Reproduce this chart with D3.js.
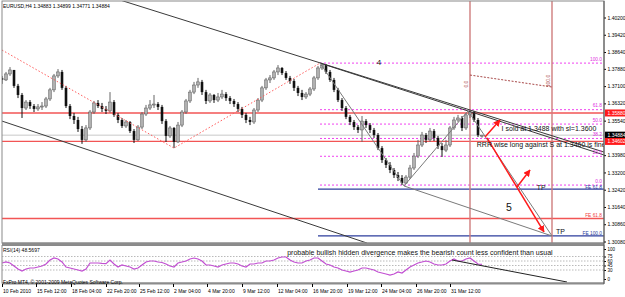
<!DOCTYPE html>
<html><head><meta charset="utf-8">
<script src="https://cdn.jsdelivr.net/npm/d3@7/dist/d3.min.js"></script>
<style>
html,body{margin:0;padding:0;background:#fff;}
svg{display:block;}
</style></head>
<body><svg id="chart" width="625" height="297"></svg>
<script>
// ---------------- DATA ----------------
const symbolTitle = "EURUSD,H4  1.34883 1.34899 1.34771 1.34884";
const firstOpen = 1.3747;
const closes = [
1.3738,1.3765,1.3783,1.3711,1.3670,1.3611,1.3638,1.3620,1.3607,1.3616,
1.3620,1.3652,1.3693,1.3756,1.3774,1.3702,1.3620,1.3575,1.3557,1.3516,
1.3467,1.3521,1.3593,1.3634,1.3620,1.3607,1.3598,1.3638,1.3580,1.3557,
1.3530,1.3548,1.3507,1.3467,1.3525,1.3584,1.3611,1.3625,1.3629,1.3616,
1.3552,1.3485,1.3521,1.3458,1.3534,1.3593,1.3643,1.3683,1.3715,1.3729,
1.3683,1.3643,1.3670,1.3647,1.3661,1.3674,1.3656,1.3643,1.3629,1.3607,
1.3580,1.3557,1.3548,1.3602,1.3647,1.3702,1.3738,1.3747,1.3774,1.3792,
1.3769,1.3747,1.3733,1.3702,1.3679,1.3661,1.3674,1.3697,1.3747,1.3792,
1.3805,1.3774,1.3738,1.3693,1.3647,1.3611,1.3571,1.3548,1.3525,1.3512,
1.3552,1.3534,1.3512,1.3489,1.3430,1.3376,1.3354,1.3331,1.3308,1.3295,
1.3272,1.3299,1.3340,1.3394,1.3444,1.3489,1.3467,1.3507,1.3476,1.3439,
1.3421,1.3444,1.3521,1.3557,1.3566,1.3521,1.3580,1.3593,1.3557,1.34883,
1.34884];
const highs = [
1.3756,1.3774,1.3796,1.3783,1.3720,1.3679,1.3647,1.3647,1.3629,1.3629,
1.3638,1.3661,1.3702,1.3765,1.3787,1.3783,1.3711,1.3629,1.3589,1.3571,
1.3530,1.3534,1.3602,1.3643,1.3647,1.3634,1.3620,1.3683,1.3647,1.3589,
1.3566,1.3557,1.3552,1.3516,1.3534,1.3593,1.3625,1.3647,1.3670,1.3638,
1.3625,1.3561,1.3530,1.3525,1.3548,1.3602,1.3652,1.3693,1.3729,1.3747,
1.3738,1.3693,1.3679,1.3674,1.3679,1.3693,1.3683,1.3665,1.3652,1.3638,
1.3616,1.3589,1.3571,1.3611,1.3656,1.3711,1.3747,1.3760,1.3783,1.3805,
1.3796,1.3778,1.3756,1.3742,1.3711,1.3693,1.3683,1.3706,1.3756,1.3801,
1.3814,1.3810,1.3783,1.3747,1.3702,1.3656,1.3620,1.3580,1.3557,1.3534,
1.3575,1.3561,1.3543,1.3521,1.3498,1.3439,1.3385,1.3367,1.3340,1.3322,
1.3308,1.3308,1.3354,1.3408,1.3467,1.3503,1.3498,1.3521,1.3516,1.3485,
1.3453,1.3467,1.3530,1.3571,1.3580,1.3575,1.3589,1.3602,1.3598,1.3566,
1.34899];
const lows = [
1.3720,1.3733,1.3756,1.3702,1.3656,1.3566,1.3602,1.3607,1.3593,1.3598,
1.3602,1.3611,1.3643,1.3683,1.3747,1.3693,1.3611,1.3561,1.3539,1.3503,
1.3449,1.3458,1.3512,1.3584,1.3611,1.3593,1.3584,1.3589,1.3571,1.3543,
1.3521,1.3521,1.3498,1.3453,1.3462,1.3516,1.3575,1.3602,1.3611,1.3602,
1.3539,1.3458,1.3476,1.3430,1.3453,1.3525,1.3584,1.3634,1.3674,1.3702,
1.3670,1.3629,1.3634,1.3634,1.3638,1.3652,1.3643,1.3629,1.3616,1.3593,
1.3566,1.3543,1.3534,1.3539,1.3593,1.3638,1.3693,1.3724,1.3738,1.3760,
1.3760,1.3738,1.3720,1.3688,1.3665,1.3647,1.3652,1.3665,1.3688,1.3738,
1.3783,1.3765,1.3729,1.3683,1.3638,1.3598,1.3561,1.3534,1.3512,1.3498,
1.3458,1.3521,1.3498,1.3476,1.3421,1.3363,1.3340,1.3317,1.3295,1.3281,
1.3263,1.3268,1.3290,1.3331,1.3385,1.3435,1.3453,1.3458,1.3462,1.3426,
1.3390,1.3412,1.3435,1.3512,1.3548,1.3507,1.3512,1.3566,1.3548,1.3480,
1.34771];
const rsiValues = [
53.3,56.7,53.3,43.3,33.3,26.7,33.3,36.7,36.7,40.0,
43.3,50.0,63.3,70.0,66.7,56.7,40.0,36.7,33.3,30.0,
26.7,33.3,53.3,53.3,53.3,52.0,51.0,63.3,50.0,40.0,
46.7,43.3,40.0,33.3,36.7,46.7,56.7,60.0,60.0,56.7,
55.0,50.0,43.3,40.0,53.3,56.7,60.0,66.7,70.0,66.7,
60.0,46.7,46.7,43.3,40.0,46.7,50.0,53.3,53.3,50.0,
43.3,40.0,50.0,50.0,53.3,53.3,60.0,60.0,63.3,70.0,
73.3,73.3,63.3,56.7,53.3,53.3,60.0,63.3,70.0,70.0,
60.0,50.0,46.7,40.0,36.7,30.0,26.7,23.3,26.7,30.0,
36.7,36.7,33.3,30.0,23.3,20.0,16.7,13.3,16.7,23.3,
20.0,30.0,40.0,46.7,53.3,56.7,60.0,56.7,50.0,46.7,
46.7,50.0,60.0,66.7,60.0,60.0,66.7,70.0,60.0,50.0,
48.57];
const rsiTitle = "RSI(14) 48.5697";
const rsiLevels = [75, 60, 45, 30];
const rsiAxisTicks = [100, 75, 60, 45, 30, 0];
const rsiTrend = [[112.5, 63.3], [141.25, -10]];
const timeLabels = ["10 Feb 2010","15 Feb 12:00","18 Feb 04:00","22 Feb 20:00","25 Feb 12:00","2 Mar 04:00","4 Mar 20:00","9 Mar 12:00","12 Mar 04:00","16 Mar 20:00","19 Mar 12:00","24 Mar 04:00","26 Mar 20:00","31 Mar 12:00"];
const timeLabelIndex = [0, 8.5, 17.25, 26, 34.25, 42.75, 51.25, 60, 68.75, 77.5, 86.25, 94.75, 103.5, 112];
const priceTicks = [1.40200,1.39420,1.38640,1.37880,1.37100,1.36320,1.35540,1.33980,1.33200,1.32420,1.31640,1.30860,1.30080];
const redLevels = [1.35886, 1.34602, 1.31120];
const currentPrice = 1.34884;
const priceTagValues = [1.35886, 1.34884, 1.34602];
const priceTagTexts = ["1.35880", "1.34884", "1.34602"];
const fibLow = 1.3263, fibHigh = 1.3814, fibStartIndex = 79.5;
const fibRatios = [0, 23.6, 38.2, 50.0, 61.8, 100.0];
const feLevels = [1.3245, 1.3033];
const feLabels = ["FE 61.8", "FE 100.0"];
const redFeLabel = "FE 61.8";
const timeFibIndex = [117, 137.5];
const timeFibLabels = ["0.0", "100.0"];
const timeFibLabelPrice = [1.3719, 1.3733];
const timeFibLine = [[117, 1.3760], [137.5, 1.3706]];
const channelTop = [[29.5, 1.4099], [150.5, 1.3412]];
const peakLine = [[79.5, 1.3814], [150.5, 1.3399]];
const channelBottom = [[0, 1.3552], [91.25, 1.3001]];
const zigzag = [[0, 1.3873], [43, 1.3430], [79.5, 1.3814]];
const waveLines = [
  [[79.5, 1.3814], [100.5, 1.3259]],
  [[100.5, 1.3259], [116.5, 1.3598]],
  [[116.5, 1.3598], [137.5, 1.3033]],
  [[100.5, 1.3259], [137.5, 1.3033]]
];
const redArrows = [
  [[120.75, 1.3480], [124.5, 1.3557]],
  [[121.25, 1.3476], [135.5, 1.3051]],
  [[128.75, 1.3254], [132, 1.3331]]
];
const annotationTexts = ["4", "5", "TP", "TP", "I sold at 1.3488 with sl=1.3600", "RRR wise long against S at 1.3460 is fine"];
const annotationAnchors = [[93.7, 1.3815], [126, 1.3162], [133.7, 1.3252], [138.5, 1.3053], [124.9, 1.3519], [118.7, 1.3444]];
const rsiNote = "probable bullish hidden divergence makes the bearish count less confident than usual";
const rsiNoteAnchor = [71.3, 90];
const copyright = "FxPro MT4, \u00A9 2001-2009 MetaQuotes Software Corp.";

// ---------------- CHART ----------------
const FONT = "'Liberation Sans', Arial, sans-serif";
const svg = d3.select("#chart");
const L = 2, R = 604, T = 1, B = 243, RT = 245.5, RB = 283;
const x = d3.scaleLinear().domain([0, 150.5]).range([2, 604]);
const y = d3.scaleLinear().domain([1.30080, 1.40200]).range([241.5, 17.5]);
const yr = d3.scaleLinear().domain([0, 100]).range([279, 249]);

svg.append("rect").attr("width", 625).attr("height", 297).attr("fill", "#fff");

const defs = svg.append("defs");
defs.append("clipPath").attr("id", "mainClip").append("rect")
  .attr("x", L).attr("y", T).attr("width", R - L).attr("height", B - T);
defs.append("clipPath").attr("id", "rsiClip").append("rect")
  .attr("x", L).attr("y", RT).attr("width", R - L).attr("height", RB - RT);
defs.append("marker").attr("id", "arrowRed").attr("viewBox", "0 0 10 10")
  .attr("refX", 9).attr("refY", 5).attr("markerWidth", 7).attr("markerHeight", 7)
  .attr("markerUnits", "userSpaceOnUse").attr("orient", "auto")
  .append("path").attr("d", "M0,0 L10,5 L0,10 z").attr("fill", "#ff1a1a");

const main = svg.append("g").attr("clip-path", "url(#mainClip)");
const line = d3.line().x(d => x(d[0])).y(d => y(d[1]));

// horizontal levels (background)
main.append("line").attr("x1", L).attr("x2", R)
  .attr("y1", y(currentPrice)).attr("y2", y(currentPrice))
  .attr("stroke", "#c8c8c8").attr("stroke-width", 1);
main.selectAll("line.red").data(redLevels).join("line").attr("class", "red")
  .attr("x1", L).attr("x2", R).attr("y1", d => y(d)).attr("y2", d => y(d))
  .attr("stroke", "#f25555").attr("stroke-width", 1.3);

// fib retracement
const fibVal = r => fibLow + (fibHigh - fibLow) * r / 100;
main.selectAll("line.fib").data(fibRatios).join("line").attr("class", "fib")
  .attr("x1", x(fibStartIndex)).attr("x2", R)
  .attr("y1", d => y(fibVal(d))).attr("y2", d => y(fibVal(d)))
  .attr("stroke", "#f040f0").attr("stroke-width", 1).attr("stroke-dasharray", "2,2");
// FE blue lines
main.selectAll("line.fe").data(feLevels).join("line").attr("class", "fe")
  .attr("x1", x(fibStartIndex) - 2).attr("x2", R)
  .attr("y1", d => y(d)).attr("y2", d => y(d))
  .attr("stroke", "#2c3c9c").attr("stroke-width", 1.2);

// vertical time-fib lines
main.selectAll("line.tf").data(timeFibIndex).join("line").attr("class", "tf")
  .attr("x1", d => x(d)).attr("x2", d => x(d)).attr("y1", T).attr("y2", B)
  .attr("stroke", "#cf7d7d").attr("stroke-width", 1.4);
main.append("path").attr("d", line(timeFibLine)).attr("fill", "none")
  .attr("stroke", "#a84848").attr("stroke-width", 1).attr("stroke-dasharray", "2,1.5");

// candles
const candles = closes.map((c, i) => ({i, o: i ? closes[i - 1] : firstOpen, c, h: highs[i], l: lows[i]}));
const cg = main.append("g");
cg.selectAll("line.wick").data(candles).join("line").attr("class", "wick")
  .attr("x1", d => x(d.i)).attr("x2", d => x(d.i))
  .attr("y1", d => y(d.h)).attr("y2", d => y(d.l))
  .attr("stroke", d => d.c >= d.o ? "#666" : "#111").attr("stroke-width", 1);
cg.selectAll("rect.body").data(candles).join("rect").attr("class", "body")
  .attr("x", d => x(d.i) - 1.3).attr("width", 2.6)
  .attr("y", d => y(Math.max(d.o, d.c)))
  .attr("height", d => Math.max(1, Math.abs(y(d.o) - y(d.c))))
  .attr("fill", d => d.c >= d.o ? "#b0b0b0" : "#111")
  .attr("stroke", d => d.c >= d.o ? "#555" : "none").attr("stroke-width", 0.5);

// trend lines
main.append("path").attr("d", line(zigzag)).attr("fill", "none")
  .attr("stroke", "#ff5c5c").attr("stroke-width", 1).attr("stroke-dasharray", "1.5,2");
[channelTop, peakLine, channelBottom].forEach(seg => {
  main.append("path").attr("d", line(seg)).attr("fill", "none")
    .attr("stroke", "#3a3a3a").attr("stroke-width", 1);
});
waveLines.forEach(seg => {
  main.append("path").attr("d", line(seg)).attr("fill", "none")
    .attr("stroke", "#7a7a7a").attr("stroke-width", 1);
});
redArrows.forEach(seg => {
  main.append("path").attr("d", line(seg)).attr("fill", "none")
    .attr("stroke", "#ff1a1a").attr("stroke-width", 1.5).attr("marker-end", "url(#arrowRed)");
});

// fib labels
main.selectAll("text.fibl").data(fibRatios).join("text").attr("class", "fibl")
  .attr("x", R - 2).attr("y", d => y(fibVal(d)) - 4).attr("text-anchor", "end")
  .attr("dominant-baseline", "central")
  .attr("font-family", FONT).attr("font-size", 4.8).attr("fill", "#e030e0")
  .text(d => d.toFixed(1));
main.selectAll("text.fel").data(feLevels).join("text").attr("class", "fel")
  .attr("x", R - 2).attr("y", d => y(d) - 2).attr("text-anchor", "end")
  .attr("dominant-baseline", "central")
  .attr("font-family", FONT).attr("font-size", 4.8).attr("fill", "#2c3c9c")
  .text((d, i) => feLabels[i]);
main.append("text").attr("x", R - 2).attr("y", y(redLevels[2]) - 3).attr("text-anchor", "end")
  .attr("dominant-baseline", "central")
  .attr("font-family", FONT).attr("font-size", 4.8).attr("fill", "#f04040").text(redFeLabel);
timeFibIndex.forEach((ti, k) => {
  main.append("text")
    .attr("transform", `translate(${x(ti) - 2},${y(timeFibLabelPrice[k])}) rotate(-90)`)
    .attr("text-anchor", "middle").attr("font-family", FONT).attr("font-size", 5)
    .attr("fill", "#a84848").text(timeFibLabels[k]);
});

// annotations
const annSizes = [8, 10.5, 6.8, 7, 7, 7];
annotationTexts.forEach((t, k) => {
  main.append("text").attr("x", x(annotationAnchors[k][0])).attr("y", y(annotationAnchors[k][1]))
    .attr("dominant-baseline", "central").attr("font-family", FONT)
    .attr("font-size", annSizes[k]).attr("fill", "#111").text(t);
});

// title
svg.append("text").attr("x", 3).attr("y", 6).attr("dominant-baseline", "central")
  .attr("font-family", FONT).attr("font-size", 5).attr("fill", "#000").text(symbolTitle);

// ---------------- RSI PANEL ----------------
const rsiG = svg.append("g").attr("clip-path", "url(#rsiClip)");
rsiG.selectAll("line.lvl").data(rsiLevels).join("line").attr("class", "lvl")
  .attr("x1", L).attr("x2", R).attr("y1", d => yr(d)).attr("y2", d => yr(d))
  .attr("stroke", "#a8a8a8").attr("stroke-width", 0.8).attr("stroke-dasharray", "1.5,1.5");
rsiG.append("path").datum(rsiValues)
  .attr("d", d3.line().x((d, i) => x(i)).y(d => yr(d)))
  .attr("fill", "none").attr("stroke", "#c24fd2").attr("stroke-width", 1.2);
rsiG.append("path").attr("d", d3.line().x(d => x(d[0])).y(d => yr(d[1]))(rsiTrend))
  .attr("fill", "none").attr("stroke", "#222").attr("stroke-width", 1);
svg.append("text").attr("x", 3).attr("y", 250).attr("dominant-baseline", "central")
  .attr("font-family", FONT).attr("font-size", 5).attr("fill", "#000").text(rsiTitle);
svg.append("text").attr("x", x(rsiNoteAnchor[0])).attr("y", yr(rsiNoteAnchor[1]))
  .attr("dominant-baseline", "central")
  .attr("font-family", FONT).attr("font-size", 7).attr("fill", "#111").text(rsiNote);

// ---------------- FRAMES ----------------
svg.append("rect").attr("x", L).attr("y", T).attr("width", R - L).attr("height", B - T)
  .attr("fill", "none").attr("stroke", "#8a8a8a").attr("stroke-width", 1);
svg.append("rect").attr("x", L).attr("y", B - 0.5).attr("width", R - L).attr("height", 3)
  .attr("fill", "#8c8c8c");
svg.append("rect").attr("x", L).attr("y", RT).attr("width", R - L).attr("height", RB - RT)
  .attr("fill", "none").attr("stroke", "#8a8a8a").attr("stroke-width", 1);
svg.append("rect").attr("x", L).attr("y", RB - 0.5).attr("width", R - L).attr("height", 2)
  .attr("fill", "#8c8c8c");
svg.append("text").attr("x", 3).attr("y", 282).attr("dominant-baseline", "central")
  .attr("font-family", FONT).attr("font-size", 5).attr("fill", "#000").text(copyright);

// ---------------- AXES ----------------
const ay = svg.append("g").attr("transform", `translate(${R},0)`)
  .call(d3.axisRight(y).tickValues(priceTicks).tickSize(2).tickFormat(d => d.toFixed(5)));
ay.select(".domain").remove();
ay.attr("font-family", FONT).attr("font-size", 5);
ay.selectAll("text").attr("x", 3.5).attr("fill", "#000");
ay.selectAll("line").attr("stroke", "#000");

// price tags
priceTagValues.forEach((v, k) => {
  const fill = k === 1 ? "#000" : "#ff1a1a";
  svg.append("rect").attr("x", R + 1).attr("y", y(v) - 3.5).attr("width", 21).attr("height", 7).attr("fill", fill);
  svg.append("text").attr("x", R + 3.5).attr("y", y(v)).attr("dominant-baseline", "central")
    .attr("font-family", FONT).attr("font-size", 5).attr("fill", "#fff").text(priceTagTexts[k]);
});

// RSI axis
const ar = svg.append("g").attr("transform", `translate(${R},0)`)
  .call(d3.axisRight(yr).tickValues(rsiAxisTicks).tickSize(2).tickFormat(d3.format("d")));
ar.select(".domain").remove();
ar.attr("font-family", FONT).attr("font-size", 4.5);
ar.selectAll("text").attr("x", 3.5).attr("fill", "#000");
ar.selectAll("line").attr("stroke", "#000");
svg.append("line").attr("x1", R).attr("x2", R).attr("y1", T).attr("y2", RB + 1)
  .attr("stroke", "#555").attr("stroke-width", 1);

// time axis
const ax = svg.append("g").attr("transform", `translate(0,${RB + 1})`)
  .call(d3.axisBottom(x).tickValues(timeLabelIndex).tickSize(3).tickFormat((d, i) => timeLabels[i]));
ax.select(".domain").remove();
ax.attr("font-family", FONT).attr("font-size", 5);
ax.selectAll("text").attr("text-anchor", "start").attr("x", 0.5).attr("y", 5).attr("fill", "#000");
ax.selectAll("line").attr("stroke", "#000");
</script>
</body></html>
